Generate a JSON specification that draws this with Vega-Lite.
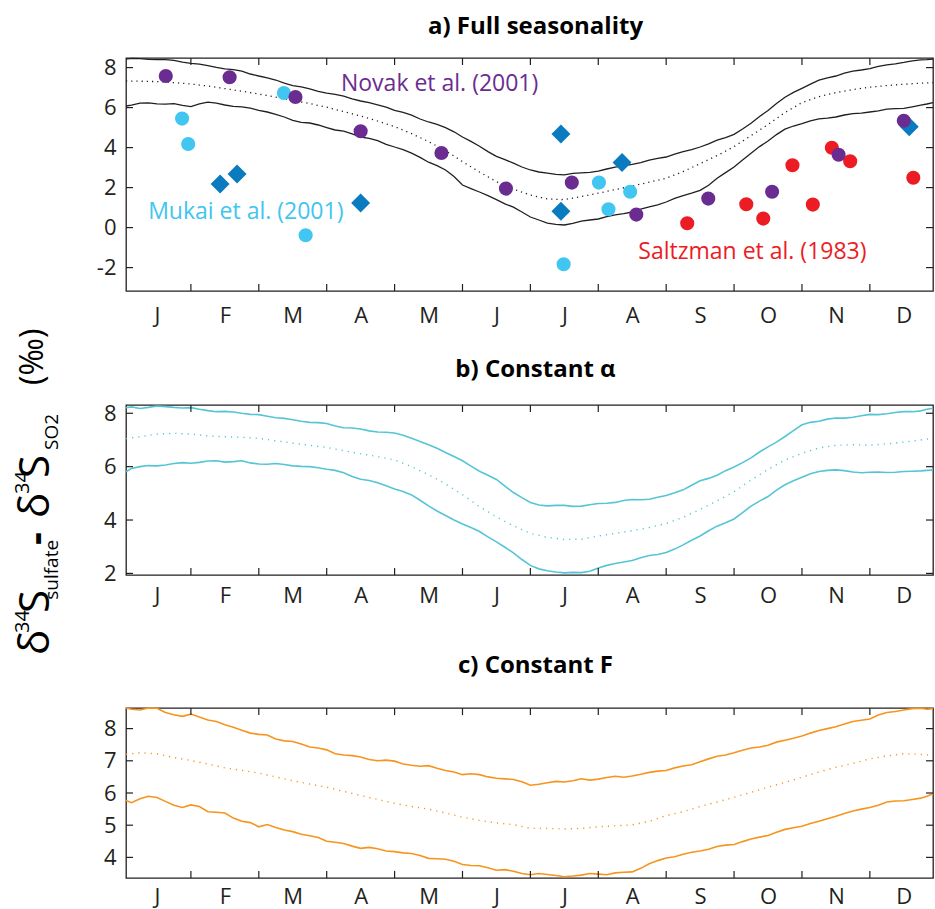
{
"$schema": "https://vega.github.io/schema/vega-lite/v6.json",
"padding": {"left": 12, "top": 14, "right": 0, "bottom": 0},
"config": {
 "font": "Open Sans",
 "view": {"stroke": "#231f20", "strokeWidth": 1.3},
 "axis": {"labelFont": "Open Sans", "labelFontSize": 22, "labelColor": "#231f20", "ticks": false, "domain": false, "grid": false, "labelFlush": false, "labelOverlap": false},
 "title": {"font": "Open Sans", "fontSize": 24, "fontWeight": "bold", "color": "#000", "anchor": "middle"}
},
"datasets": {
 "A": [
  {"m":0.044,"u":8.42,"c":7.33,"l":6.08},{"m":0.25,"u":8.45,"c":7.32,"l":6.22},{"m":0.5,"u":8.40,"c":7.30,"l":6.19},{"m":0.75,"u":8.36,"c":7.25,"l":6.20},
  {"m":1.0,"u":8.21,"c":7.18,"l":6.05},{"m":1.25,"u":8.10,"c":7.08,"l":6.27},{"m":1.5,"u":7.94,"c":6.95,"l":6.13},{"m":1.75,"u":7.82,"c":6.82,"l":6.04},
  {"m":2.0,"u":7.58,"c":6.68,"l":5.86},{"m":2.25,"u":7.38,"c":6.52,"l":5.66},{"m":2.5,"u":7.10,"c":6.36,"l":5.36},{"m":2.75,"u":6.94,"c":6.20,"l":5.23},
  {"m":3.0,"u":6.72,"c":6.02,"l":5.00},{"m":3.25,"u":6.57,"c":5.80,"l":4.82},{"m":3.5,"u":6.33,"c":5.58,"l":4.53},{"m":3.75,"u":6.14,"c":5.33,"l":4.35},
  {"m":4.0,"u":5.86,"c":5.05,"l":4.03},{"m":4.25,"u":5.62,"c":4.70,"l":3.72},{"m":4.5,"u":5.28,"c":4.30,"l":3.27},{"m":4.75,"u":5.00,"c":3.85,"l":2.88},
  {"m":5.0,"u":4.53,"c":3.30,"l":2.13},{"m":5.25,"u":4.07,"c":2.78,"l":1.78},{"m":5.5,"u":3.56,"c":2.30,"l":1.40},{"m":5.75,"u":3.22,"c":1.92,"l":1.02},
  {"m":6.0,"u":2.88,"c":1.63,"l":0.53},{"m":6.25,"u":2.72,"c":1.43,"l":0.22},{"m":6.5,"u":2.64,"c":1.40,"l":0.13},{"m":6.75,"u":2.74,"c":1.55,"l":0.32},
  {"m":7.0,"u":2.82,"c":1.72,"l":0.43},{"m":7.25,"u":3.02,"c":1.90,"l":0.64},{"m":7.5,"u":3.16,"c":2.08,"l":0.78},{"m":7.75,"u":3.37,"c":2.27,"l":1.04},
  {"m":8.0,"u":3.53,"c":2.47,"l":1.28},{"m":8.25,"u":3.80,"c":2.80,"l":1.60},{"m":8.5,"u":4.03,"c":3.20,"l":1.86},{"m":8.75,"u":4.37,"c":3.60,"l":2.47},
  {"m":9.0,"u":4.66,"c":4.05,"l":3.03},{"m":9.25,"u":5.22,"c":4.60,"l":3.72},{"m":9.5,"u":5.86,"c":5.15,"l":4.33},{"m":9.75,"u":6.52,"c":5.75,"l":4.92},
  {"m":10.0,"u":6.96,"c":6.25,"l":5.20},{"m":10.25,"u":7.37,"c":6.55,"l":5.44},{"m":10.5,"u":7.58,"c":6.75,"l":5.53},{"m":10.75,"u":7.82,"c":6.90,"l":5.70},
  {"m":11.0,"u":7.95,"c":7.02,"l":5.78},{"m":11.25,"u":8.14,"c":7.10,"l":5.92},{"m":11.5,"u":8.26,"c":7.17,"l":5.96},{"m":11.75,"u":8.39,"c":7.22,"l":6.12},
  {"m":11.93,"u":8.42,"c":7.25,"l":6.25},
  {"m":0.125,"u":8.46,"l":6.12},{"m":0.375,"u":8.41,"l":6.24},{"m":0.625,"u":8.40,"l":6.17},{"m":0.875,"u":8.27,"l":6.11},
  {"m":1.125,"u":8.17,"l":6.19},{"m":1.375,"u":8.01,"l":6.22},{"m":1.625,"u":7.90,"l":6.06},{"m":1.875,"u":7.68,"l":5.97},
  {"m":2.125,"u":7.49,"l":5.78},{"m":2.375,"u":7.22,"l":5.53},{"m":2.625,"u":7.04,"l":5.26},{"m":2.875,"u":6.81,"l":5.13},
  {"m":3.125,"u":6.66,"l":4.88},{"m":3.375,"u":6.44,"l":4.69},{"m":3.625,"u":6.25,"l":4.46},{"m":3.875,"u":6.02,"l":4.16},
  {"m":4.125,"u":5.76,"l":3.90},{"m":4.375,"u":5.43,"l":3.51},{"m":4.625,"u":5.16,"l":3.10},{"m":4.875,"u":4.79,"l":2.55},
  {"m":5.125,"u":4.31,"l":1.95},{"m":5.375,"u":3.80,"l":1.60},{"m":5.625,"u":3.40,"l":1.19},{"m":5.875,"u":3.03,"l":0.78},
  {"m":6.125,"u":2.78,"l":0.38},{"m":6.375,"u":2.66,"l":0.16},{"m":6.625,"u":2.71,"l":0.21},{"m":6.875,"u":2.76,"l":0.38},
  {"m":7.125,"u":2.93,"l":0.55},{"m":7.375,"u":3.10,"l":0.70},{"m":7.625,"u":3.25,"l":0.93},{"m":7.875,"u":3.46,"l":1.14},
  {"m":8.125,"u":3.67,"l":1.46},{"m":8.375,"u":3.90,"l":1.72},{"m":8.625,"u":4.19,"l":2.12},{"m":8.875,"u":4.50,"l":2.75},
  {"m":9.125,"u":4.93,"l":3.38},{"m":9.375,"u":5.55,"l":4.05},{"m":9.625,"u":6.20,"l":4.65},{"m":9.875,"u":6.76,"l":5.08},
  {"m":10.125,"u":7.17,"l":5.34},{"m":10.375,"u":7.49,"l":5.47},{"m":10.625,"u":7.72,"l":5.63},{"m":10.875,"u":7.88,"l":5.72},
  {"m":11.125,"u":8.06,"l":5.84},{"m":11.375,"u":8.19,"l":5.95},{"m":11.625,"u":8.34,"l":6.04},{"m":11.84,"u":8.40,"l":6.18}
 ],
 "B": [
  {"m":0.044,"u":8.21,"c":7.05,"l":5.81},{"m":0.25,"u":8.18,"c":7.12,"l":6.00},{"m":0.5,"u":8.27,"c":7.22,"l":6.03},{"m":0.75,"u":8.22,"c":7.25,"l":6.12},
  {"m":1.0,"u":8.21,"c":7.22,"l":6.13},{"m":1.25,"u":8.10,"c":7.15,"l":6.21},{"m":1.5,"u":8.07,"c":7.12,"l":6.17},{"m":1.75,"u":8.00,"c":7.10,"l":6.22},
  {"m":2.0,"u":7.95,"c":7.06,"l":6.10},{"m":2.25,"u":7.83,"c":6.97,"l":6.12},{"m":2.5,"u":7.76,"c":6.88,"l":6.03},{"m":2.75,"u":7.66,"c":6.80,"l":6.00},
  {"m":3.0,"u":7.62,"c":6.72,"l":5.90},{"m":3.25,"u":7.46,"c":6.60,"l":5.77},{"m":3.5,"u":7.41,"c":6.48,"l":5.53},{"m":3.75,"u":7.30,"c":6.38,"l":5.40},
  {"m":4.0,"u":7.26,"c":6.25,"l":5.16},{"m":4.25,"u":7.06,"c":6.00,"l":4.94},{"m":4.5,"u":6.82,"c":5.70,"l":4.53},{"m":4.75,"u":6.53,"c":5.35,"l":4.17},
  {"m":5.0,"u":6.22,"c":4.95,"l":3.85},{"m":5.25,"u":5.83,"c":4.50,"l":3.57},{"m":5.5,"u":5.52,"c":4.12,"l":3.18},{"m":5.75,"u":5.03,"c":3.78,"l":2.77},
  {"m":6.0,"u":4.66,"c":3.50,"l":2.30},{"m":6.25,"u":4.53,"c":3.35,"l":2.10},{"m":6.5,"u":4.55,"c":3.27,"l":2.02},{"m":6.75,"u":4.52,"c":3.28,"l":2.03},
  {"m":7.0,"u":4.62,"c":3.40,"l":2.20},{"m":7.25,"u":4.66,"c":3.50,"l":2.37},{"m":7.5,"u":4.77,"c":3.60,"l":2.48},{"m":7.75,"u":4.78,"c":3.72,"l":2.67},
  {"m":8.0,"u":4.92,"c":3.87,"l":2.78},{"m":8.25,"u":5.13,"c":4.10,"l":3.07},{"m":8.5,"u":5.47,"c":4.40,"l":3.40},{"m":8.75,"u":5.68,"c":4.72,"l":3.77},
  {"m":9.0,"u":5.99,"c":5.06,"l":4.04},{"m":9.25,"u":6.33,"c":5.50,"l":4.52},{"m":9.5,"u":6.74,"c":5.90,"l":4.88},{"m":9.75,"u":7.13,"c":6.25,"l":5.32},
  {"m":10.0,"u":7.57,"c":6.50,"l":5.60},{"m":10.25,"u":7.70,"c":6.70,"l":5.82},{"m":10.5,"u":7.82,"c":6.80,"l":5.88},{"m":10.75,"u":7.85,"c":6.82,"l":5.80},
  {"m":11.0,"u":7.96,"c":6.81,"l":5.79},{"m":11.25,"u":7.98,"c":6.85,"l":5.78},{"m":11.5,"u":8.06,"c":6.92,"l":5.82},{"m":11.75,"u":8.09,"c":7.00,"l":5.84},
  {"m":11.93,"u":8.19,"c":7.06,"l":5.87},
  {"m":0.125,"u":8.24,"l":5.93},{"m":0.375,"u":8.22,"l":6.04},{"m":0.625,"u":8.25,"l":6.06},{"m":0.875,"u":8.20,"l":6.15},
  {"m":1.125,"u":8.15,"l":6.16},{"m":1.375,"u":8.06,"l":6.22},{"m":1.625,"u":8.05,"l":6.19},{"m":1.875,"u":7.96,"l":6.14},
  {"m":2.125,"u":7.89,"l":6.09},{"m":2.375,"u":7.81,"l":6.08},{"m":2.625,"u":7.70,"l":6.01},{"m":2.875,"u":7.65,"l":5.96},
  {"m":3.125,"u":7.52,"l":5.86},{"m":3.375,"u":7.45,"l":5.63},{"m":3.625,"u":7.34,"l":5.48},{"m":3.875,"u":7.29,"l":5.28},
  {"m":4.125,"u":7.18,"l":5.07},{"m":4.375,"u":6.94,"l":4.74},{"m":4.625,"u":6.69,"l":4.34},{"m":4.875,"u":6.38,"l":4.00},
  {"m":5.125,"u":6.02,"l":3.72},{"m":5.375,"u":5.68,"l":3.37},{"m":5.625,"u":5.27,"l":2.98},{"m":5.875,"u":4.84,"l":2.52},
  {"m":6.125,"u":4.56,"l":2.17},{"m":6.375,"u":4.55,"l":2.05},{"m":6.625,"u":4.51,"l":2.04},{"m":6.875,"u":4.57,"l":2.08},
  {"m":7.125,"u":4.63,"l":2.30},{"m":7.375,"u":4.73,"l":2.43},{"m":7.625,"u":4.76,"l":2.59},{"m":7.875,"u":4.85,"l":2.71},
  {"m":8.125,"u":5.02,"l":2.91},{"m":8.375,"u":5.30,"l":3.24},{"m":8.625,"u":5.56,"l":3.60},{"m":8.875,"u":5.85,"l":3.90},
  {"m":9.125,"u":6.15,"l":4.28},{"m":9.375,"u":6.55,"l":4.71},{"m":9.625,"u":6.92,"l":5.12},{"m":9.875,"u":7.35,"l":5.47},
  {"m":10.125,"u":7.66,"l":5.73},{"m":10.375,"u":7.78,"l":5.86},{"m":10.625,"u":7.82,"l":5.85},{"m":10.875,"u":7.91,"l":5.77},
  {"m":11.125,"u":7.95,"l":5.80},{"m":11.375,"u":8.03,"l":5.79},{"m":11.625,"u":8.06,"l":5.83},{"m":11.84,"u":8.15,"l":5.86}
 ],
 "C": [
  {"m":0.044,"u":8.64,"c":7.20,"l":5.77},{"m":0.25,"u":8.58,"c":7.25,"l":5.82},{"m":0.5,"u":8.63,"c":7.22,"l":5.86},{"m":0.75,"u":8.43,"c":7.10,"l":5.62},
  {"m":1.0,"u":8.45,"c":7.01,"l":5.63},{"m":1.25,"u":8.27,"c":6.90,"l":5.42},{"m":1.5,"u":8.12,"c":6.78,"l":5.38},{"m":1.75,"u":7.95,"c":6.70,"l":5.12},
  {"m":2.0,"u":7.82,"c":6.62,"l":4.95},{"m":2.25,"u":7.68,"c":6.50,"l":4.93},{"m":2.5,"u":7.60,"c":6.38,"l":4.80},{"m":2.75,"u":7.43,"c":6.28,"l":4.67},
  {"m":3.0,"u":7.34,"c":6.18,"l":4.50},{"m":3.25,"u":7.18,"c":6.05,"l":4.43},{"m":3.5,"u":7.12,"c":5.92,"l":4.28},{"m":3.75,"u":7.00,"c":5.80,"l":4.27},
  {"m":4.0,"u":6.99,"c":5.68,"l":4.18},{"m":4.25,"u":6.86,"c":5.58,"l":4.12},{"m":4.5,"u":6.85,"c":5.50,"l":3.97},{"m":4.75,"u":6.70,"c":5.38,"l":3.94},
  {"m":5.0,"u":6.57,"c":5.25,"l":3.78},{"m":5.25,"u":6.57,"c":5.15,"l":3.74},{"m":5.5,"u":6.46,"c":5.07,"l":3.60},{"m":5.75,"u":6.42,"c":5.02,"l":3.57},
  {"m":6.0,"u":6.24,"c":4.90,"l":3.46},{"m":6.25,"u":6.32,"c":4.90,"l":3.47},{"m":6.5,"u":6.34,"c":4.88,"l":3.40},{"m":6.75,"u":6.44,"c":4.90,"l":3.45},
  {"m":7.0,"u":6.43,"c":4.95,"l":3.48},{"m":7.25,"u":6.52,"c":4.98,"l":3.52},{"m":7.5,"u":6.53,"c":5.01,"l":3.55},{"m":7.75,"u":6.64,"c":5.12,"l":3.80},
  {"m":8.0,"u":6.70,"c":5.30,"l":3.98},{"m":8.25,"u":6.84,"c":5.42,"l":4.10},{"m":8.5,"u":6.97,"c":5.58,"l":4.20},{"m":8.75,"u":7.14,"c":5.72,"l":4.34},
  {"m":9.0,"u":7.25,"c":5.87,"l":4.40},{"m":9.25,"u":7.40,"c":6.02,"l":4.57},{"m":9.5,"u":7.48,"c":6.18,"l":4.68},{"m":9.75,"u":7.64,"c":6.33,"l":4.87},
  {"m":10.0,"u":7.77,"c":6.49,"l":4.97},{"m":10.25,"u":7.94,"c":6.65,"l":5.12},{"m":10.5,"u":8.06,"c":6.80,"l":5.28},{"m":10.75,"u":8.22,"c":6.92,"l":5.44},
  {"m":11.0,"u":8.30,"c":7.06,"l":5.55},{"m":11.25,"u":8.50,"c":7.15,"l":5.72},{"m":11.5,"u":8.58,"c":7.22,"l":5.76},{"m":11.75,"u":8.63,"c":7.20,"l":5.84},
  {"m":11.93,"u":8.62,"c":7.17,"l":5.98},
  {"m":0.125,"u":8.60,"l":5.70},{"m":0.375,"u":8.64,"l":5.90},{"m":0.625,"u":8.50,"l":5.74},{"m":0.875,"u":8.38,"l":5.55},
  {"m":1.125,"u":8.36,"l":5.58},{"m":1.375,"u":8.22,"l":5.40},{"m":1.625,"u":8.04,"l":5.22},{"m":1.875,"u":7.86,"l":5.08},
  {"m":2.125,"u":7.80,"l":5.02},{"m":2.375,"u":7.62,"l":4.85},{"m":2.625,"u":7.52,"l":4.72},{"m":2.875,"u":7.40,"l":4.62},
  {"m":3.125,"u":7.22,"l":4.47},{"m":3.375,"u":7.16,"l":4.35},{"m":3.625,"u":7.04,"l":4.31},{"m":3.875,"u":7.02,"l":4.20},
  {"m":4.125,"u":6.90,"l":4.14},{"m":4.375,"u":6.83,"l":4.06},{"m":4.625,"u":6.77,"l":3.96},{"m":4.875,"u":6.65,"l":3.88},
  {"m":5.125,"u":6.60,"l":3.75},{"m":5.375,"u":6.50,"l":3.68},{"m":5.625,"u":6.44,"l":3.62},{"m":5.875,"u":6.35,"l":3.50},
  {"m":6.125,"u":6.27,"l":3.50},{"m":6.375,"u":6.36,"l":3.44},{"m":6.625,"u":6.38,"l":3.42},{"m":6.875,"u":6.40,"l":3.50},
  {"m":7.125,"u":6.48,"l":3.46},{"m":7.375,"u":6.49,"l":3.54},{"m":7.625,"u":6.58,"l":3.66},{"m":7.875,"u":6.68,"l":3.90},
  {"m":8.125,"u":6.78,"l":4.02},{"m":8.375,"u":6.88,"l":4.16},{"m":8.625,"u":7.06,"l":4.25},{"m":8.875,"u":7.18,"l":4.38},
  {"m":9.125,"u":7.33,"l":4.49},{"m":9.375,"u":7.43,"l":4.63},{"m":9.625,"u":7.58,"l":4.78},{"m":9.875,"u":7.70,"l":4.92},
  {"m":10.125,"u":7.86,"l":5.05},{"m":10.375,"u":8.00,"l":5.20},{"m":10.625,"u":8.14,"l":5.36},{"m":10.875,"u":8.26,"l":5.50},
  {"m":11.125,"u":8.42,"l":5.62},{"m":11.375,"u":8.53,"l":5.75},{"m":11.625,"u":8.62,"l":5.80},{"m":11.84,"u":8.60,"l":5.90}
 ],
 "mb": [{"m":1},{"m":2},{"m":3},{"m":4},{"m":5},{"m":6},{"m":7},{"m":8},{"m":9},{"m":10},{"m":11}],
 "yt": [
  {"p":"a","v":-2},{"p":"a","v":0},{"p":"a","v":2},{"p":"a","v":4},{"p":"a","v":6},{"p":"a","v":8},
  {"p":"b","v":2},{"p":"b","v":4},{"p":"b","v":6},{"p":"b","v":8},
  {"p":"c","v":4},{"p":"c","v":5},{"p":"c","v":6},{"p":"c","v":7},{"p":"c","v":8}
 ],
 "pts": [
  {"m":1.43,"v":2.18,"src":"MukaiD"},{"m":1.68,"v":2.68,"src":"MukaiD"},{"m":3.50,"v":1.23,"src":"MukaiD"},{"m":6.45,"v":4.68,"src":"MukaiD"},{"m":6.45,"v":0.82,"src":"MukaiD"},{"m":7.35,"v":3.25,"src":"MukaiD"},{"m":11.58,"v":5.04,"src":"MukaiD"},
  {"m":0.87,"v":5.45,"src":"MukaiC"},{"m":0.96,"v":4.18,"src":"MukaiC"},{"m":2.37,"v":6.73,"src":"MukaiC"},{"m":2.69,"v":-0.38,"src":"MukaiC"},{"m":6.49,"v":-1.83,"src":"MukaiC"},{"m":7.01,"v":2.25,"src":"MukaiC"},{"m":7.15,"v":0.92,"src":"MukaiC"},{"m":7.47,"v":1.79,"src":"MukaiC"},
  {"m":8.31,"v":0.22,"src":"Saltzman"},{"m":9.18,"v":1.17,"src":"Saltzman"},{"m":9.43,"v":0.45,"src":"Saltzman"},{"m":9.86,"v":3.12,"src":"Saltzman"},{"m":10.16,"v":1.15,"src":"Saltzman"},{"m":10.44,"v":3.99,"src":"Saltzman"},{"m":10.71,"v":3.32,"src":"Saltzman"},{"m":11.64,"v":2.49,"src":"Saltzman"},
  {"m":0.63,"v":7.58,"src":"Novak"},{"m":1.57,"v":7.52,"src":"Novak"},{"m":2.54,"v":6.53,"src":"Novak"},{"m":3.50,"v":4.82,"src":"Novak"},{"m":4.69,"v":3.73,"src":"Novak"},{"m":5.64,"v":1.95,"src":"Novak"},{"m":6.61,"v":2.25,"src":"Novak"},{"m":7.56,"v":0.65,"src":"Novak"},{"m":8.62,"v":1.45,"src":"Novak"},{"m":9.56,"v":1.79,"src":"Novak"},{"m":10.54,"v":3.64,"src":"Novak"},{"m":11.50,"v":5.34,"src":"Novak"}
 ],
 "notes": [
  {"t":"Novak et al. (2001)","m":3.21,"v":7.19,"src":"Novak"},
  {"t":"Mukai et al. (2001)","m":0.37,"v":0.79,"src":"Mukai"},
  {"t":"Saltzman et al. (1983)","m":7.59,"v":-1.2,"src":"Saltzman"}
 ],
 "ytitle": [
  {"t":"δ","p":-21.37,"k":"big"},{"t":"34","p":-20.27,"k":"sup"},{"t":"S","p":-19.27,"k":"big"},{"t":"sulfate","p":-18.61,"k":"sub"},
  {"t":"-","p":-15.87,"k":"dash"},{"t":"δ","p":-14.52,"k":"big"},{"t":"34","p":-13.32,"k":"sup"},{"t":"S","p":-12.52,"k":"big"},{"t":"SO2","p":-11.12,"k":"sub"},{"t":"(‰)","p":-7.87,"k":"unit"}
 ]
},
"spacing": 114,
"bounds": "flush",
"vconcat": [
 {
  "width": 807, "height": 233,
  "title": {"text": "a) Full seasonality", "offset": 17, "dx": 6},
  "layer": [
   {"data": {"name": "A"}, "transform": [{"fold": ["u","l"], "as": ["key","value"]}],
    "mark": {"type": "line", "color": "#231f20", "strokeWidth": 1.3},
    "encoding": {
     "x": {"field": "m", "type": "quantitative", "scale": {"domain": [0.044, 11.93], "nice": false, "zero": false},
           "axis": {"orient": "bottom", "title": null, "values": [0.5,1.5,2.5,3.5,4.5,5.5,6.5,7.5,8.5,9.5,10.5,11.5],
                    "labelExpr": "['J','F','M','A','M','J','J','A','S','O','N','D'][floor(datum.value)]", "labelPadding": 14}},
     "y": {"field": "value", "type": "quantitative", "scale": {"domain": [-3.17, 8.48], "nice": false, "zero": false},
           "axis": {"orient": "left", "title": null, "values": [-2,0,2,4,6,8], "labelPadding": 10, "labelExpr": "replace(datum.label, '−', '-')"}},
     "detail": {"field": "key"}
    }},
   {"data": {"name": "A"}, "transform": [{"filter": "datum.c != null"}],
    "mark": {"type": "line", "color": "#231f20", "strokeWidth": 1.3, "strokeDash": [1.2, 4]},
    "encoding": {"x": {"field": "m", "type": "quantitative"}, "y": {"field": "c", "type": "quantitative"}}},
   {"data": {"name": "mb"}, "mark": {"type": "rule", "color": "#231f20", "strokeWidth": 1.2},
    "encoding": {"x": {"field": "m", "type": "quantitative"}, "y": {"datum": -3.17}, "y2": {"datum": -2.82}}},
   {"data": {"name": "mb"}, "mark": {"type": "rule", "color": "#231f20", "strokeWidth": 1.2},
    "encoding": {"x": {"field": "m", "type": "quantitative"}, "y": {"datum": 8.13}, "y2": {"datum": 8.48}}},
   {"data": {"name": "yt"}, "transform": [{"filter": "datum.p == 'a'"}], "mark": {"type": "rule", "color": "#231f20", "strokeWidth": 1.2},
    "encoding": {"y": {"field": "v", "type": "quantitative"}, "x": {"datum": 0.044}, "x2": {"datum": 0.147}}},
   {"data": {"name": "yt"}, "transform": [{"filter": "datum.p == 'a'"}], "mark": {"type": "rule", "color": "#231f20", "strokeWidth": 1.2},
    "encoding": {"y": {"field": "v", "type": "quantitative"}, "x": {"datum": 11.827}, "x2": {"datum": 11.93}}},
   {"data": {"name": "pts"}, "transform": [{"filter": "datum.src == 'MukaiD'"}],
    "mark": {"type": "point", "shape": "diamond", "filled": true, "size": 360, "color": "#0a7bbf", "opacity": 1},
    "encoding": {"x": {"field": "m", "type": "quantitative"}, "y": {"field": "v", "type": "quantitative"}}},
   {"data": {"name": "pts"}, "transform": [{"filter": "datum.src != 'MukaiD'"}],
    "mark": {"type": "circle", "size": 200, "opacity": 1},
    "encoding": {
     "x": {"field": "m", "type": "quantitative"},
     "y": {"field": "v", "type": "quantitative"},
     "color": {"field": "src", "type": "nominal", "legend": null, "scale": {"domain": ["MukaiC","Saltzman","Novak"], "range": ["#41c5f1","#ec1c24","#6b2c91"]}}
    }},
   {"data": {"name": "notes"},
    "mark": {"type": "text", "align": "left", "baseline": "middle", "fontSize": 23, "font": "Open Sans"},
    "encoding": {
     "x": {"field": "m", "type": "quantitative"},
     "y": {"field": "v", "type": "quantitative"},
     "text": {"field": "t"},
     "color": {"field": "src", "type": "nominal", "legend": null, "scale": {"domain": ["Novak","Mukai","Saltzman"], "range": ["#7d3f9e","#1b7fc4","#ec1c24"]}}
    }},
   {"data": {"name": "ytitle"}, "transform": [{"filter": "datum.k == 'big'"}],
    "mark": {"type": "text", "align": "left", "baseline": "alphabetic", "angle": 270, "fontSize": 42, "font": "Open Sans", "color": "#000"},
    "encoding": {"x": {"datum": -1.088}, "y": {"field": "p", "type": "quantitative"}, "text": {"field": "t"}}},
   {"data": {"name": "ytitle"}, "transform": [{"filter": "datum.k == 'dash'"}],
    "mark": {"type": "text", "align": "left", "baseline": "alphabetic", "angle": 270, "fontSize": 40, "fontWeight": "bold", "font": "Open Sans", "color": "#000"},
    "encoding": {"x": {"datum": -1.088}, "y": {"field": "p", "type": "quantitative"}, "text": {"field": "t"}}},
   {"data": {"name": "ytitle"}, "transform": [{"filter": "datum.k == 'sup'"}],
    "mark": {"type": "text", "align": "left", "baseline": "alphabetic", "angle": 270, "fontSize": 20, "dy": -20, "font": "Open Sans", "color": "#000"},
    "encoding": {"x": {"datum": -1.088}, "y": {"field": "p", "type": "quantitative"}, "text": {"field": "t"}}},
   {"data": {"name": "ytitle"}, "transform": [{"filter": "datum.k == 'sub'"}],
    "mark": {"type": "text", "align": "left", "baseline": "alphabetic", "angle": 270, "fontSize": 19, "dy": 9, "font": "Open Sans", "color": "#000"},
    "encoding": {"x": {"datum": -1.088}, "y": {"field": "p", "type": "quantitative"}, "text": {"field": "t"}}},
   {"data": {"name": "ytitle"}, "transform": [{"filter": "datum.k == 'unit'"}],
    "mark": {"type": "text", "align": "left", "baseline": "alphabetic", "angle": 270, "fontSize": 32, "dy": -6, "font": "Open Sans", "color": "#000"},
    "encoding": {"x": {"datum": -1.088}, "y": {"field": "p", "type": "quantitative"}, "text": {"field": "t"}}}
  ]
 },
 {
  "spacing": 133,
  "bounds": "flush",
  "vconcat": [
   {
    "width": 807, "height": 170,
    "title": {"text": "b) Constant α", "offset": 20, "dx": 6},
    "layer": [
     {"data": {"name": "B"}, "transform": [{"fold": ["u","l"], "as": ["key","value"]}],
      "mark": {"type": "line", "color": "#55c5d5", "strokeWidth": 1.6},
      "encoding": {
       "x": {"field": "m", "type": "quantitative", "scale": {"domain": [0.044, 11.93], "nice": false, "zero": false},
             "axis": {"orient": "bottom", "title": null, "values": [0.5,1.5,2.5,3.5,4.5,5.5,6.5,7.5,8.5,9.5,10.5,11.5],
                      "labelExpr": "['J','F','M','A','M','J','J','A','S','O','N','D'][floor(datum.value)]", "labelPadding": 10}},
       "y": {"field": "value", "type": "quantitative", "scale": {"domain": [1.94, 8.31], "nice": false, "zero": false},
             "axis": {"orient": "left", "title": null, "values": [2,4,6,8], "labelPadding": 10}},
       "detail": {"field": "key"}
      }},
     {"data": {"name": "B"}, "transform": [{"filter": "datum.c != null"}],
      "mark": {"type": "line", "color": "#55c5d5", "strokeWidth": 1.4, "strokeDash": [1.2, 5]},
      "encoding": {"x": {"field": "m", "type": "quantitative"}, "y": {"field": "c", "type": "quantitative"}}},
     {"data": {"name": "mb"}, "mark": {"type": "rule", "color": "#231f20", "strokeWidth": 1.2},
      "encoding": {"x": {"field": "m", "type": "quantitative"}, "y": {"datum": 1.94}, "y2": {"datum": 2.2}}},
     {"data": {"name": "mb"}, "mark": {"type": "rule", "color": "#231f20", "strokeWidth": 1.2},
      "encoding": {"x": {"field": "m", "type": "quantitative"}, "y": {"datum": 8.05}, "y2": {"datum": 8.31}}},
     {"data": {"name": "yt"}, "transform": [{"filter": "datum.p == 'b'"}], "mark": {"type": "rule", "color": "#231f20", "strokeWidth": 1.2},
      "encoding": {"y": {"field": "v", "type": "quantitative"}, "x": {"datum": 0.044}, "x2": {"datum": 0.147}}},
     {"data": {"name": "yt"}, "transform": [{"filter": "datum.p == 'b'"}], "mark": {"type": "rule", "color": "#231f20", "strokeWidth": 1.2},
      "encoding": {"y": {"field": "v", "type": "quantitative"}, "x": {"datum": 11.827}, "x2": {"datum": 11.93}}}
    ]
   },
   {
    "width": 807, "height": 170,
    "title": {"text": "c) Constant F", "offset": 27, "dx": 6},
    "layer": [
     {"data": {"name": "C"}, "transform": [{"fold": ["u","l"], "as": ["key","value"]}],
      "mark": {"type": "line", "color": "#f7941d", "strokeWidth": 1.6},
      "encoding": {
       "x": {"field": "m", "type": "quantitative", "scale": {"domain": [0.044, 11.93], "nice": false, "zero": false},
             "axis": {"orient": "bottom", "title": null, "values": [0.5,1.5,2.5,3.5,4.5,5.5,6.5,7.5,8.5,9.5,10.5,11.5],
                      "labelExpr": "['J','F','M','A','M','J','J','A','S','O','N','D'][floor(datum.value)]", "labelPadding": 8}},
       "y": {"field": "value", "type": "quantitative", "scale": {"domain": [3.36, 8.64], "nice": false, "zero": false},
             "axis": {"orient": "left", "title": null, "values": [4,5,6,7,8], "labelPadding": 10}},
       "detail": {"field": "key"}
      }},
     {"data": {"name": "C"}, "transform": [{"filter": "datum.c != null"}],
      "mark": {"type": "line", "color": "#f7941d", "strokeWidth": 1.4, "strokeDash": [1.2, 5]},
      "encoding": {"x": {"field": "m", "type": "quantitative"}, "y": {"field": "c", "type": "quantitative"}}},
     {"data": {"name": "mb"}, "mark": {"type": "rule", "color": "#231f20", "strokeWidth": 1.2},
      "encoding": {"x": {"field": "m", "type": "quantitative"}, "y": {"datum": 3.36}, "y2": {"datum": 3.58}}},
     {"data": {"name": "mb"}, "mark": {"type": "rule", "color": "#231f20", "strokeWidth": 1.2},
      "encoding": {"x": {"field": "m", "type": "quantitative"}, "y": {"datum": 8.42}, "y2": {"datum": 8.64}}},
     {"data": {"name": "yt"}, "transform": [{"filter": "datum.p == 'c'"}], "mark": {"type": "rule", "color": "#231f20", "strokeWidth": 1.2},
      "encoding": {"y": {"field": "v", "type": "quantitative"}, "x": {"datum": 0.044}, "x2": {"datum": 0.147}}},
     {"data": {"name": "yt"}, "transform": [{"filter": "datum.p == 'c'"}], "mark": {"type": "rule", "color": "#231f20", "strokeWidth": 1.2},
      "encoding": {"y": {"field": "v", "type": "quantitative"}, "x": {"datum": 11.827}, "x2": {"datum": 11.93}}}
    ]
   }
  ]
 }
]
}
